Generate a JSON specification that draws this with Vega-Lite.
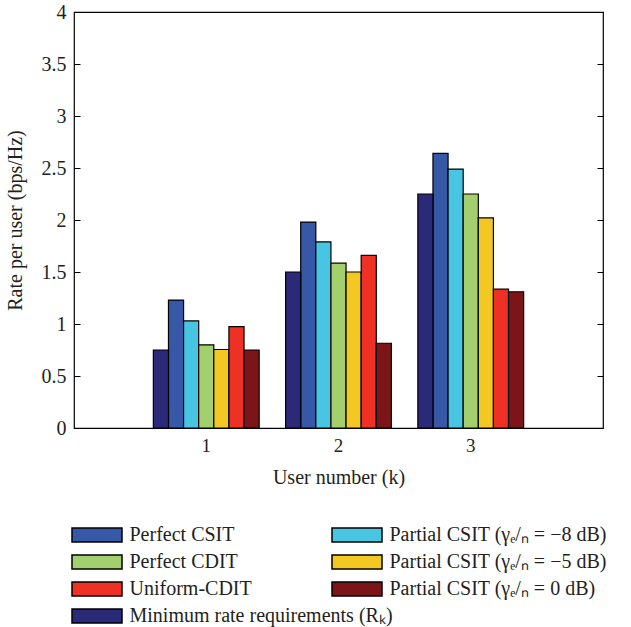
{
  "$schema": "https://vega.github.io/schema/vega-lite/v6.json",
  "width": 529,
  "height": 416,
  "autosize": {"type": "none"},
  "padding": {"left": 74, "top": 12, "right": 28, "bottom": 199},
  "background": "white",
  "config": {
    "view": {"stroke": "black", "strokeWidth": 1.2},
    "font": "Liberation Serif",
    "axis": {"grid": false, "domain": false, "labelColor": "#231f20", "titleColor": "#231f20", "titleFontWeight": "normal", "labelFont": "Liberation Serif", "titleFont": "Liberation Serif"},
    "legend": {"labelFont": "Liberation Serif", "labelColor": "#231f20"}
  },
  "datasets": {
    "main": [
      {"k": "1", "series": "Perfect CSIT", "rate": 1.23},
      {"k": "1", "series": "Partial CSIT (γₑ/ₙ = −8 dB)", "rate": 1.03},
      {"k": "1", "series": "Perfect CDIT", "rate": 0.80},
      {"k": "1", "series": "Partial CSIT (γₑ/ₙ = −5 dB)", "rate": 0.755},
      {"k": "1", "series": "Uniform-CDIT", "rate": 0.975},
      {"k": "1", "series": "Partial CSIT (γₑ/ₙ = 0 dB)", "rate": 0.75},
      {"k": "2", "series": "Perfect CSIT", "rate": 1.98},
      {"k": "2", "series": "Partial CSIT (γₑ/ₙ = −8 dB)", "rate": 1.79},
      {"k": "2", "series": "Perfect CDIT", "rate": 1.585},
      {"k": "2", "series": "Partial CSIT (γₑ/ₙ = −5 dB)", "rate": 1.50},
      {"k": "2", "series": "Uniform-CDIT", "rate": 1.66},
      {"k": "2", "series": "Partial CSIT (γₑ/ₙ = 0 dB)", "rate": 0.815},
      {"k": "3", "series": "Perfect CSIT", "rate": 2.64},
      {"k": "3", "series": "Partial CSIT (γₑ/ₙ = −8 dB)", "rate": 2.49},
      {"k": "3", "series": "Perfect CDIT", "rate": 2.25},
      {"k": "3", "series": "Partial CSIT (γₑ/ₙ = −5 dB)", "rate": 2.02},
      {"k": "3", "series": "Uniform-CDIT", "rate": 1.335},
      {"k": "3", "series": "Partial CSIT (γₑ/ₙ = 0 dB)", "rate": 1.31}
    ],
    "minrate": [
      {"k": "1", "series": "Minimum rate requirements (Rₖ)", "rate": 0.75},
      {"k": "2", "series": "Minimum rate requirements (Rₖ)", "rate": 1.50},
      {"k": "3", "series": "Minimum rate requirements (Rₖ)", "rate": 2.25}
    ]
  },
  "layer": [
    {
      "data": {"name": "main"},
      "mark": {"type": "bar", "stroke": "black", "strokeWidth": 1.2},
      "encoding": {
        "x": {
          "field": "k", "type": "nominal",
          "scale": {"paddingInner": 0.2, "paddingOuter": 0.6},
          "axis": {"labelAngle": 0, "ticks": false, "labelFontSize": 19, "labelPadding": 8, "title": "User number (k)", "titleFontSize": 20, "titlePadding": 12}
        },
        "xOffset": {
          "field": "series", "type": "nominal",
          "scale": {
            "domain": ["Minimum rate requirements (Rₖ)", "Perfect CSIT", "Partial CSIT (γₑ/ₙ = −8 dB)", "Perfect CDIT", "Partial CSIT (γₑ/ₙ = −5 dB)", "Uniform-CDIT", "Partial CSIT (γₑ/ₙ = 0 dB)"],
            "paddingInner": 0, "paddingOuter": 0
          }
        },
        "y": {
          "field": "rate", "type": "quantitative",
          "scale": {"domain": [0, 4], "nice": false, "zero": true},
          "axis": {"orient": "left", "values": [0, 0.5, 1, 1.5, 2, 2.5, 3, 3.5, 4], "format": "~g", "tickSize": -6, "tickColor": "black", "labelFontSize": 20, "labelPadding": 14, "title": "Rate per user (bps/Hz)", "titleFontSize": 20, "titlePadding": 16}
        },
        "color": {
          "field": "series", "type": "nominal",
          "scale": {
            "domain": ["Perfect CSIT", "Perfect CDIT", "Uniform-CDIT", "Partial CSIT (γₑ/ₙ = −8 dB)", "Partial CSIT (γₑ/ₙ = −5 dB)", "Partial CSIT (γₑ/ₙ = 0 dB)"],
            "range": ["#3758a6", "#a3cf6f", "#ee3124", "#48c5e2", "#f4c823", "#7b1517"]
          },
          "legend": {
            "orient": "none", "legendX": -3, "legendY": 513, "columns": 2, "title": null,
            "symbolType": "M-1,-0.28L1,-0.28L1,0.28L-1,0.28Z", "symbolSize": 2500,
            "symbolStrokeColor": "black", "symbolStrokeWidth": 1.5, "clipHeight": 20,
            "rowPadding": 7, "columnPadding": 79, "labelFontSize": 20, "labelOffset": 6.5, "labelLimit": 400
          }
        }
      }
    },
    {
      "data": {"name": "minrate"},
      "mark": {"type": "bar", "stroke": "black", "strokeWidth": 1.2},
      "encoding": {
        "x": {"field": "k", "type": "nominal", "scale": {"paddingInner": 0.2, "paddingOuter": 0.6}},
        "xOffset": {
          "field": "series", "type": "nominal",
          "scale": {
            "domain": ["Minimum rate requirements (Rₖ)", "Perfect CSIT", "Partial CSIT (γₑ/ₙ = −8 dB)", "Perfect CDIT", "Partial CSIT (γₑ/ₙ = −5 dB)", "Uniform-CDIT", "Partial CSIT (γₑ/ₙ = 0 dB)"],
            "paddingInner": 0, "paddingOuter": 0
          }
        },
        "y": {
          "field": "rate", "type": "quantitative",
          "scale": {"domain": [0, 4], "nice": false, "zero": true},
          "axis": {"orient": "right", "values": [0, 0.5, 1, 1.5, 2, 2.5, 3, 3.5, 4], "labels": false, "tickSize": -6, "tickColor": "black", "title": null}
        },
        "color": {
          "field": "series", "type": "nominal",
          "scale": {"domain": ["Minimum rate requirements (Rₖ)"], "range": ["#2a2a78"]},
          "legend": {
            "orient": "none", "legendX": -3, "legendY": 594, "title": null,
            "symbolType": "M-1,-0.28L1,-0.28L1,0.28L-1,0.28Z", "symbolSize": 2500,
            "symbolStrokeColor": "black", "symbolStrokeWidth": 1.5, "clipHeight": 20,
            "labelFontSize": 20, "labelOffset": 6.5, "labelLimit": 400
          }
        }
      }
    }
  ],
  "resolve": {"scale": {"color": "independent"}, "legend": {"color": "independent"}, "axis": {"y": "independent"}}
}
